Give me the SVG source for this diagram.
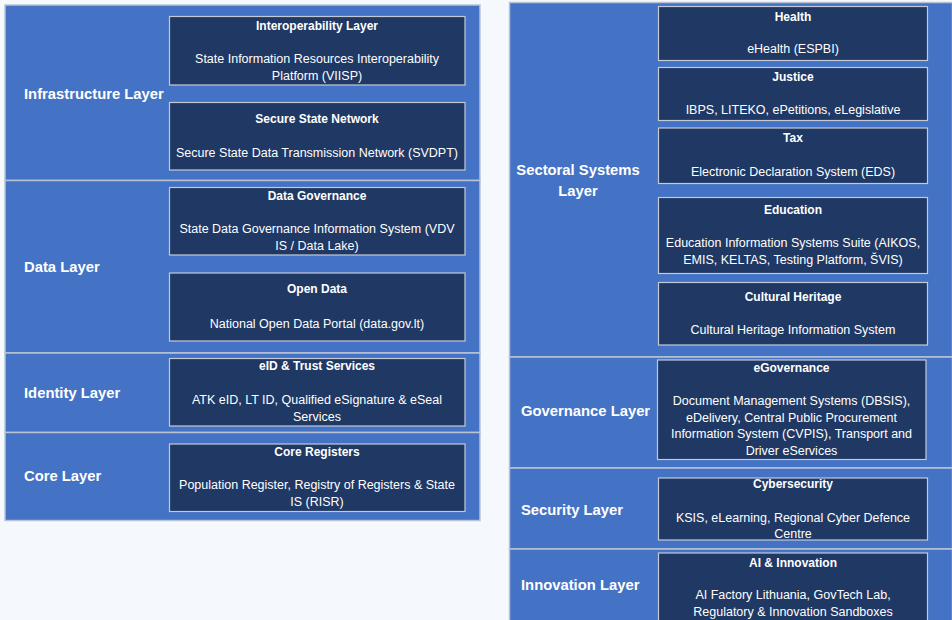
<svg xmlns="http://www.w3.org/2000/svg" width="952" height="620" viewBox="0 0 952 620">
<style>
.bg{fill:#f5f8fc}
.band{fill:#4472c4;stroke:#b9c3d3;stroke-width:1.5}
.node{fill:#203864;stroke:#c3cad6;stroke-width:1.2}
.lbl{font-family:"Liberation Sans",Arial,sans-serif;font-weight:bold;font-size:14.8px;fill:#ffffff}
.t{font-family:"Liberation Sans",Arial,sans-serif;font-weight:bold;font-size:12px;fill:#ffffff;text-anchor:middle}
.b{font-family:"Liberation Sans",Arial,sans-serif;font-size:12.5px;fill:#ffffff;text-anchor:middle}
</style>
<rect class="bg" x="0" y="0" width="952" height="620"/>
<g id="bands">
<rect id="infrastructure-layer" class="band" x="5" y="5" width="475" height="175.5"/>
<rect id="data-layer" class="band" x="5" y="180.5" width="475" height="172.5"/>
<rect id="identity-layer" class="band" x="5" y="353" width="475" height="79.5"/>
<rect id="core-layer" class="band" x="5" y="432.5" width="475" height="88"/>
<rect id="sectoral-layer" class="band" x="509.5" y="2.5" width="443" height="354.5"/>
<rect id="governance-layer" class="band" x="509.5" y="357" width="443" height="111"/>
<rect id="security-layer" class="band" x="509.5" y="468" width="443" height="81"/>
<rect id="innovation-layer" class="band" x="509.5" y="549" width="443" height="80"/>
</g>
<g id="layer-labels">
<text class="lbl" x="24" y="98.5">Infrastructure Layer</text>
<text class="lbl" x="24" y="271.5">Data Layer</text>
<text class="lbl" x="24" y="397.5">Identity Layer</text>
<text class="lbl" x="24" y="480.5">Core Layer</text>
<text class="lbl" x="578" y="175" text-anchor="middle">Sectoral Systems</text>
<text class="lbl" x="578" y="195.5" text-anchor="middle">Layer</text>
<text class="lbl" x="521" y="416">Governance Layer</text>
<text class="lbl" x="521" y="515">Security Layer</text>
<text class="lbl" x="521" y="590">Innovation Layer</text>
</g>
<g id="interoperability">
<rect class="node" x="169.5" y="16.5" width="295.5" height="68.5"/>
<text class="t" x="317" y="30">Interoperability Layer</text>
<text class="b" x="317" y="63.3">State Information Resources Interoperability</text>
<text class="b" x="317" y="80">Platform (VIISP)</text>
</g>
<g id="secure-network">
<rect class="node" x="169.5" y="102.5" width="295.5" height="67.5"/>
<text class="t" x="317" y="122.7">Secure State Network</text>
<text class="b" x="317" y="156.7">Secure State Data Transmission Network (SVDPT)</text>
</g>
<g id="data-governance">
<rect class="node" x="169.5" y="187.5" width="295.5" height="67.5"/>
<text class="t" x="317" y="200">Data Governance</text>
<text class="b" x="317" y="233.3">State Data Governance Information System (VDV</text>
<text class="b" x="317" y="250">IS / Data Lake)</text>
</g>
<g id="open-data">
<rect class="node" x="169.5" y="273" width="295.5" height="68"/>
<text class="t" x="317" y="293.3">Open Data</text>
<text class="b" x="317" y="327.7">National Open Data Portal (data.gov.lt)</text>
</g>
<g id="eid">
<rect class="node" x="169.5" y="358.5" width="295.5" height="67.5"/>
<text class="t" x="317" y="370">eID &amp; Trust Services</text>
<text class="b" x="317" y="404.3">ATK eID, LT ID, Qualified eSignature &amp; eSeal</text>
<text class="b" x="317" y="421">Services</text>
</g>
<g id="core-registers">
<rect class="node" x="169.5" y="444" width="295.5" height="67.5"/>
<text class="t" x="317" y="456">Core Registers</text>
<text class="b" x="317" y="489.3">Population Register, Registry of Registers &amp; State</text>
<text class="b" x="317" y="506">IS (RISR)</text>
</g>
<g id="health">
<rect class="node" x="658.5" y="6.5" width="269" height="54"/>
<text class="t" x="793" y="20.5">Health</text>
<text class="b" x="793" y="53.3">eHealth (ESPBI)</text>
</g>
<g id="justice">
<rect class="node" x="658.5" y="67.5" width="269" height="53"/>
<text class="t" x="793" y="80.5">Justice</text>
<text class="b" x="793" y="114.3">IBPS, LITEKO, ePetitions, eLegislative</text>
</g>
<g id="tax">
<rect class="node" x="658.5" y="128" width="269" height="55.5"/>
<text class="t" x="793" y="141.7">Tax</text>
<text class="b" x="793" y="175.7">Electronic Declaration System (EDS)</text>
</g>
<g id="education">
<rect class="node" x="658.5" y="197.5" width="269" height="76"/>
<text class="t" x="793" y="214.3">Education</text>
<text class="b" x="793" y="247.3">Education Information Systems Suite (AIKOS,</text>
<text class="b" x="793" y="264">EMIS, KELTAS, Testing Platform, ŠVIS)</text>
</g>
<g id="cultural-heritage">
<rect class="node" x="658.5" y="282.5" width="269" height="62.5"/>
<text class="t" x="793" y="300.7">Cultural Heritage</text>
<text class="b" x="793" y="334">Cultural Heritage Information System</text>
</g>
<g id="egovernance">
<rect class="node" x="657.5" y="360" width="268.5" height="99.5"/>
<text class="t" x="791.5" y="371.5">eGovernance</text>
<text class="b" x="791.5" y="405">Document Management Systems (DBSIS),</text>
<text class="b" x="791.5" y="421.7">eDelivery, Central Public Procurement</text>
<text class="b" x="791.5" y="438.3">Information System (CVPIS), Transport and</text>
<text class="b" x="791.5" y="455">Driver eServices</text>
</g>
<g id="cybersecurity">
<rect class="node" x="658.5" y="478" width="269" height="62"/>
<text class="t" x="793" y="488.3">Cybersecurity</text>
<text class="b" x="793" y="521.7">KSIS, eLearning, Regional Cyber Defence</text>
<text class="b" x="793" y="538.3">Centre</text>
</g>
<g id="ai-innovation">
<rect class="node" x="658.5" y="553" width="269" height="80"/>
<text class="t" x="793" y="566.7">AI &amp; Innovation</text>
<text class="b" x="793" y="599.3">AI Factory Lithuania, GovTech Lab,</text>
<text class="b" x="793" y="616">Regulatory &amp; Innovation Sandboxes</text>
</g>
<g id="connectors"/>
</svg>
